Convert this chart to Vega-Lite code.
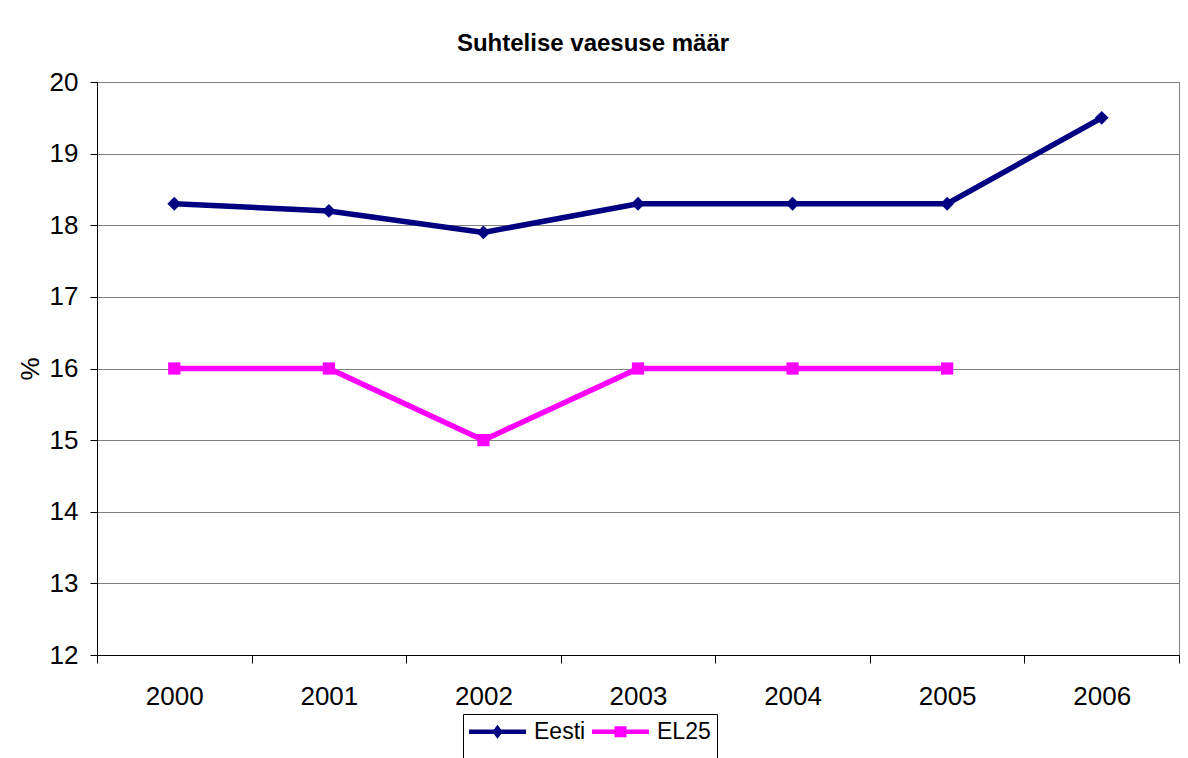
{
  "$schema": "https://vega.github.io/schema/vega-lite/v6.json",
  "width": 1082,
  "height": 573,
  "autosize": {"type": "none"},
  "padding": {"left": 97, "top": 82, "right": 9, "bottom": 103},
  "background": "white",
  "title": {
    "text": "Suhtelise vaesuse määr",
    "font": "Liberation Sans",
    "fontSize": 24,
    "fontWeight": "bold",
    "color": "black",
    "anchor": "middle",
    "dx": -45,
    "dy": 38,
    "baseline": "alphabetic",
    "offset": 32
  },
  "data": {
    "values": [
      {"year": "2000", "series": "Eesti", "value": 18.3},
      {"year": "2001", "series": "Eesti", "value": 18.2},
      {"year": "2002", "series": "Eesti", "value": 17.9},
      {"year": "2003", "series": "Eesti", "value": 18.3},
      {"year": "2004", "series": "Eesti", "value": 18.3},
      {"year": "2005", "series": "Eesti", "value": 18.3},
      {"year": "2006", "series": "Eesti", "value": 19.5},
      {"year": "2000", "series": "EL25", "value": 16},
      {"year": "2001", "series": "EL25", "value": 16},
      {"year": "2002", "series": "EL25", "value": 15},
      {"year": "2003", "series": "EL25", "value": 16},
      {"year": "2004", "series": "EL25", "value": 16},
      {"year": "2005", "series": "EL25", "value": 16}
    ]
  },
  "encoding": {
    "x": {
      "field": "year",
      "type": "ordinal",
      "scale": {"type": "band", "paddingInner": 0, "paddingOuter": 0},
      "axis": {
        "title": null,
        "labelAngle": 0,
        "labelFont": "Liberation Sans",
        "labelFontSize": 26,
        "labelColor": "black",
        "labelPadding": 20,
        "tickBand": "extent",
        "tickSize": 8,
        "tickColor": "black",
        "domainColor": "black",
        "grid": false
      }
    },
    "y": {
      "field": "value",
      "type": "quantitative",
      "scale": {"domain": [12, 20], "nice": false, "zero": false},
      "axis": {
        "title": "%",
        "titleFont": "Liberation Sans",
        "titleFontSize": 26,
        "titleFontWeight": "normal",
        "titleColor": "black",
        "titlePadding": 6,
        "values": [12, 13, 14, 15, 16, 17, 18, 19, 20],
        "labelFont": "Liberation Sans",
        "labelFontSize": 26,
        "labelColor": "black",
        "labelPadding": 12,
        "tickSize": 7,
        "tickColor": "black",
        "domainColor": "black",
        "grid": true,
        "gridColor": "#808080",
        "gridOpacity": 1
      }
    }
  },
  "layer": [
    {
      "mark": {"type": "line", "strokeWidth": 5.5},
      "encoding": {
        "color": {
          "field": "series",
          "type": "nominal",
          "scale": {"domain": ["Eesti", "EL25"], "range": ["#000080", "#FF00FF"]},
          "legend": {
            "orient": "none",
            "legendX": 366,
            "legendY": 632,
            "direction": "horizontal",
            "title": " ",
            "titleOrient": "bottom",
            "titleFontSize": 23,
            "titlePadding": 6,
            "strokeColor": "black",
            "padding": 6,
            "labelFont": "Liberation Sans",
            "labelFontSize": 23,
            "labelColor": "black",
            "labelOffset": 42,
            "columnPadding": 6,
            "symbolSize": 400,
            "encode": {
              "symbols": {
                "update": {
                  "x": {"value": 28.5},
                  "shape": {"signal": "datum.value === 'Eesti' ? 'M-2.85,-0.22H2.85V0.22H-2.85Z M0,-0.7L0.53,0L0,0.7L-0.53,0Z' : 'M-2.85,-0.22H2.85V0.22H-2.85Z M-0.6,-0.55H0.6V0.55H-0.6Z'"},
                  "fill": {"signal": "datum.value === 'Eesti' ? '#000080' : '#FF00FF'"},
                  "strokeWidth": {"value": 0},
                  "fillOpacity": {"value": 1}
                }
              }
            }
          }
        }
      }
    },
    {
      "transform": [{"filter": "datum.series === 'Eesti'"}],
      "mark": {"type": "point", "shape": "diamond", "filled": true, "opacity": 1, "color": "#000080", "size": 190}
    },
    {
      "transform": [{"filter": "datum.series === 'EL25'"}],
      "mark": {"type": "point", "shape": "square", "filled": true, "opacity": 1, "color": "#FF00FF", "size": 150}
    }
  ],
  "config": {
    "view": {"stroke": "#808080", "strokeWidth": 1},
    "font": "Liberation Sans"
  }
}
